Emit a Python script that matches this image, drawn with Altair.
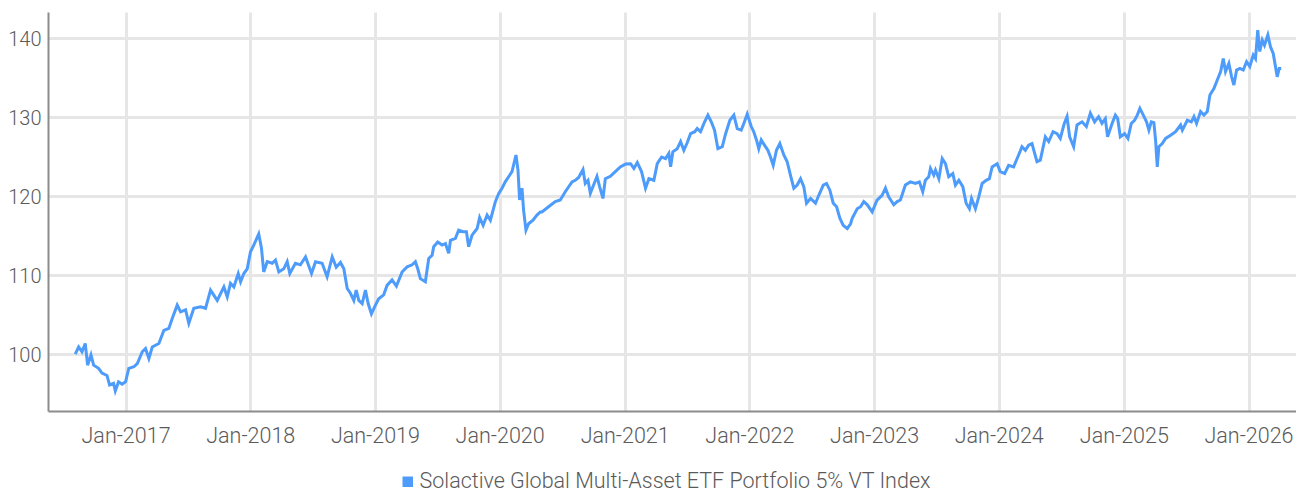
import altair as alt
import pandas as pd

# fractional year positions
t = [2016.599, 2016.626, 2016.653, 2016.679, 2016.698, 2016.725, 2016.746, 2016.786, 2016.813, 2016.853,
     2016.874, 2016.906, 2016.920, 2016.946, 2016.974, 2017.000, 2017.026, 2017.067, 2017.094, 2017.134,
     2017.160, 2017.187, 2017.214, 2017.267, 2017.307, 2017.347, 2017.374, 2017.414, 2017.441, 2017.481,
     2017.507, 2017.547, 2017.601, 2017.641, 2017.681, 2017.735, 2017.788, 2017.815, 2017.841,
     2017.868, 2017.903, 2017.922, 2017.948, 2017.975, 2018.002, 2018.028, 2018.068, 2018.090, 2018.108,
     2018.136, 2018.176, 2018.202, 2018.229, 2018.269, 2018.296, 2018.317, 2018.362, 2018.402, 2018.443,
     2018.491, 2018.523, 2018.576, 2018.616, 2018.657, 2018.689, 2018.723, 2018.750, 2018.777, 2018.803,
     2018.830, 2018.849, 2018.870, 2018.897, 2018.923, 2018.945, 2018.971, 2019.004, 2019.030, 2019.070,
     2019.097, 2019.137, 2019.172, 2019.218, 2019.258, 2019.298, 2019.324, 2019.343, 2019.364, 2019.404,
     2019.431, 2019.458, 2019.471, 2019.503, 2019.538, 2019.565, 2019.591, 2019.605, 2019.645, 2019.671,
     2019.706, 2019.733, 2019.751, 2019.778, 2019.819, 2019.839, 2019.867, 2019.899, 2019.925, 2019.965,
     2019.992, 2020.019, 2020.045, 2020.072, 2020.099, 2020.131, 2020.147, 2020.160, 2020.179, 2020.192,
     2020.211, 2020.232, 2020.267, 2020.299, 2020.326,
     2020.339, 2020.392, 2020.446, 2020.486, 2020.526, 2020.580, 2020.606, 2020.633, 2020.668, 2020.686,
     2020.708, 2020.727, 2020.753, 2020.780, 2020.801, 2020.828, 2020.847, 2020.887, 2020.927, 2020.967,
     2021.007, 2021.047, 2021.074, 2021.101, 2021.135, 2021.167, 2021.194, 2021.234, 2021.261, 2021.296,
     2021.328, 2021.354, 2021.368, 2021.386, 2021.421, 2021.448, 2021.474, 2021.501, 2021.528, 2021.562,
     2021.581, 2021.608, 2021.635, 2021.667, 2021.694, 2021.720, 2021.747, 2021.782, 2021.809, 2021.843,
     2021.875, 2021.902, 2021.934, 2021.955, 2021.982, 2022.015, 2022.035, 2022.057, 2022.075, 2022.095,
     2022.121, 2022.148, 2022.169, 2022.191, 2022.217, 2022.244, 2022.276, 2022.303, 2022.329, 2022.356,
     2022.383, 2022.410, 2022.436, 2022.458, 2022.490, 2022.530, 2022.556, 2022.592, 2022.618, 2022.645,
     2022.672, 2022.699, 2022.725, 2022.752, 2022.784, 2022.811,
     2022.824, 2022.864, 2022.891, 2022.917, 2022.945, 2022.984, 2023.024, 2023.064, 2023.091, 2023.117,
     2023.158, 2023.185, 2023.211, 2023.251, 2023.291, 2023.331, 2023.363, 2023.390, 2023.411, 2023.438,
     2023.452, 2023.478, 2023.492, 2023.519, 2023.546, 2023.572, 2023.598, 2023.631, 2023.652, 2023.679,
     2023.711, 2023.738, 2023.764, 2023.781, 2023.812, 2023.839, 2023.866, 2023.898, 2023.924, 2023.946,
     2023.986, 2024.012, 2024.047,
     2024.079, 2024.119, 2024.159, 2024.186, 2024.213, 2024.239, 2024.266, 2024.306, 2024.333, 2024.373,
     2024.400, 2024.435, 2024.467, 2024.493, 2024.525, 2024.547, 2024.568, 2024.600, 2024.627, 2024.667,
     2024.702, 2024.734, 2024.768, 2024.800, 2024.827, 2024.854, 2024.872, 2024.908, 2024.934, 2024.953,
     2024.974, 2025.006, 2025.033, 2025.060, 2025.086, 2025.108, 2025.129, 2025.156, 2025.182, 2025.201,
     2025.220, 2025.241, 2025.255, 2025.268, 2025.281, 2025.308,
     2025.335, 2025.375, 2025.415, 2025.455, 2025.469, 2025.509, 2025.541, 2025.562, 2025.583, 2025.615,
     2025.642, 2025.669, 2025.690, 2025.722, 2025.749, 2025.776, 2025.797, 2025.815, 2025.842, 2025.864,
     2025.882, 2025.904, 2025.930, 2025.957, 2025.984, 2026.010, 2026.038, 2026.056, 2026.074, 2026.090,
     2026.110, 2026.128, 2026.155, 2026.176, 2026.198, 2026.216, 2026.230, 2026.246, 2026.262]

values = [100.0, 100.9, 100.3, 101.35, 98.6, 99.9, 98.6, 98.2, 97.6, 97.3,
          96.1, 96.3, 95.35, 96.5, 96.2, 96.5, 98.2, 98.4, 98.8, 100.3,
          100.7, 99.45, 100.9, 101.35, 103.0, 103.25, 104.5, 106.2, 105.35, 105.6,
          103.9, 105.8, 106.0, 105.8, 108.1, 106.8, 108.5, 107.25, 108.95,
          108.5, 110.2, 109.15, 110.2, 110.8, 112.95, 113.8, 115.2, 113.4, 110.4,
          111.7, 111.5, 111.9, 110.4, 110.8, 111.7, 110.2, 111.5, 111.3, 112.3,
          110.2, 111.7, 111.5, 109.8, 112.3, 111.0, 111.6, 110.8, 108.3, 107.7,
          106.8, 108.1, 106.8, 106.4, 108.1, 106.4, 105.1, 106.2, 107.0, 107.5,
          108.7, 109.4, 108.6, 110.4, 111.05, 111.3, 111.7, 110.8, 109.55, 109.15,
          112.1, 112.5, 113.6, 114.2, 113.8, 114.0, 112.75, 114.4, 114.65, 115.7,
          115.5, 115.5, 113.6, 115.05, 115.9, 117.3, 116.3, 117.6, 116.95, 119.3,
          120.35, 121.0, 121.8, 122.45, 123.1, 125.2, 123.3, 119.5, 121.0, 118.2,
          115.7, 116.5, 116.95, 117.6, 118.0,
          118.0, 118.65, 119.3, 119.5, 120.55, 121.8, 122.0, 122.35, 123.35, 121.6,
          122.0, 120.35, 121.4, 122.5, 121.2, 119.7, 122.2, 122.5, 123.1, 123.7,
          124.05, 124.1, 123.5, 124.25, 123.1, 121.0, 122.2, 122.0, 124.1, 124.95,
          124.75, 125.4, 123.7, 125.6, 126.0, 126.9, 125.8, 126.75, 127.9, 128.15,
          128.55, 128.15, 129.2, 130.25, 129.4, 128.35, 126.0, 126.25, 127.9, 129.6,
          130.25, 128.55, 128.35, 129.2, 130.4, 128.8, 128.15, 127.1, 126.0, 127.1,
          126.45, 125.8, 124.95, 123.9, 125.8, 126.65, 125.2, 124.35, 122.65, 121.0,
          121.4, 122.2, 121.2, 119.1, 119.7, 119.1, 120.1, 121.4, 121.6, 120.75,
          119.1, 118.65, 117.2, 116.3, 115.9, 116.5,
          117.2, 118.4, 118.65, 119.3, 118.9, 118.0, 119.5, 120.1, 121.0, 119.9,
          118.9, 119.3, 119.5, 121.4, 121.8, 121.6, 121.8, 120.55, 122.0, 122.45,
          123.5, 122.65, 123.3, 122.2, 124.75, 124.1, 122.45, 122.85, 121.4, 122.0,
          121.2, 119.1, 118.4, 119.7, 118.4, 119.9, 121.6, 122.0, 122.2, 123.7,
          124.1, 123.1, 122.85,
          123.9, 123.7, 125.2, 126.25, 125.8, 126.45, 126.65, 124.35, 124.55, 127.5,
          126.9, 128.15, 127.9, 127.3, 129.2, 130.05, 127.5, 126.25, 129.0, 129.4,
          128.8, 130.5, 129.4, 130.05, 129.2, 129.8, 127.5, 129.2, 130.25, 129.8,
          127.5, 127.9, 127.3, 129.2, 129.6, 130.25, 131.1, 130.25, 129.4, 128.35,
          129.4, 129.3, 127.0, 123.7, 126.25, 126.65,
          127.3, 127.7, 128.15, 129.0, 128.35, 129.6, 129.4, 130.05, 129.2, 130.7,
          130.25, 130.7, 132.8, 133.6, 134.7, 135.75, 137.4, 135.75, 136.8, 135.1,
          134.05, 135.95, 136.15, 135.95, 137.0, 136.4, 137.85, 137.4, 141.0, 138.3,
          139.75, 139.1, 140.4, 138.9, 138.05, 136.4, 135.1, 136.15, 136.15]

series_name = "Solactive Global Multi-Asset ETF Portfolio 5% VT Index"
tick_years = [2017, 2018, 2019, 2020, 2021, 2022, 2023, 2024, 2025, 2026]
y_ticks = [100, 110, 120, 130, 140]


def to_date(fy):
    y = int(fy)
    return pd.Timestamp(year=y, month=1, day=1) + pd.Timedelta(days=(fy - y) * 365.25)


df = pd.DataFrame({
    "date": [to_date(v) for v in t],
    "value": values,
    "series": series_name,
})

FONT = "Roboto"
TXT = "#5a5a5a"
BLUE = "#4d9bfa"
FS = 21.5

line = alt.Chart(df).mark_line(strokeWidth=3, color=BLUE).encode(
    x=alt.X(
        "date:T",
        title=None,
        scale=alt.Scale(domain=[alt.DateTime(year=2016, month=5, date=19),
                                alt.DateTime(year=2026, month=5, date=20)]),
        axis=alt.Axis(
            values=[alt.DateTime(year=y, month=1, date=1) for y in tick_years],
            format="%b-%Y",
            labelFont=FONT, labelFontSize=FS, labelFontWeight=300, labelColor=TXT,
            labelPadding=14, ticks=False,
            grid=True, gridColor="#e6e6e6", gridWidth=3,
            domainColor="#8c8c8c", domainWidth=2,
        ),
    ),
    y=alt.Y(
        "value:Q",
        title=None,
        scale=alt.Scale(domain=[92.8, 143.3], nice=False, zero=False),
        axis=alt.Axis(
            values=y_ticks,
            labelFont=FONT, labelFontSize=20, labelFontWeight=300, labelColor=TXT,
            labelPadding=7, labelOffset=1.5, ticks=False,
            grid=True, gridColor="#e6e6e6", gridWidth=3,
            domainColor="#8c8c8c", domainWidth=2,
        ),
    ),
    color=alt.Color(
        "series:N",
        scale=alt.Scale(range=[BLUE]),
        legend=alt.Legend(
            title=None, orient="none", legendX=349, legendY=459, padding=0,
            symbolType="square", symbolSize=110, symbolFillColor=BLUE,
            symbolStrokeColor=BLUE, symbolStrokeWidth=0, symbolOpacity=1,
            labelFont=FONT, labelFontSize=FS, labelFontWeight=300, labelColor=TXT,
            labelOffset=1, labelLimit=800,
        ),
    ),
).properties(
    width=1248,
    height=399,
    autosize=alt.AutoSizeParams(type="none"),
    padding={"left": 40, "top": 4, "right": 0, "bottom": 85},
).configure_view(stroke=None)

chart = line
chart.save("out.html", embed_options={"renderer": "svg", "actions": False})
